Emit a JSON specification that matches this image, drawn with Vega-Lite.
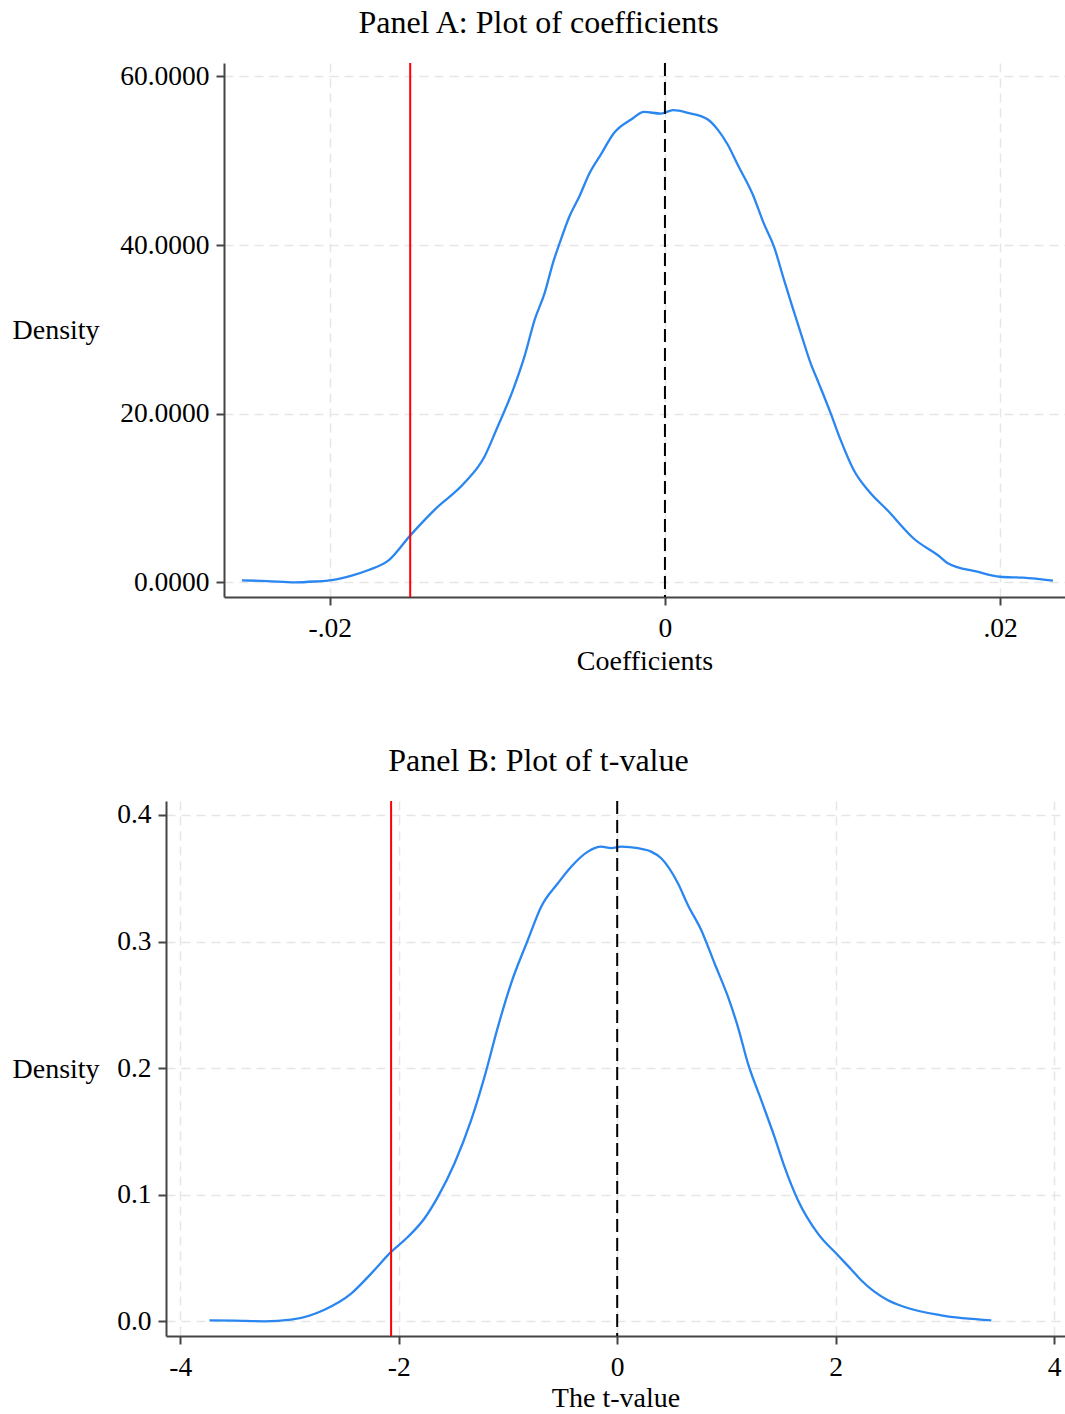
{
  "$schema": "https://vega.github.io/schema/vega-lite/v6.json",
  "padding": {"left": 12, "top": 7, "right": 0, "bottom": 0},
  "background": "white",
  "spacing": 69,
  "config": {
    "view": {"stroke": null},
    "font": "Liberation Serif",
    "title": {"font": "Liberation Serif", "fontSize": 32, "fontWeight": "normal", "color": "#000000", "anchor": "middle", "frame": "bounds", "offset": 22},
    "axis": {
      "labelFont": "Liberation Serif", "labelFontSize": 27.5, "labelColor": "#000000",
      "titleFont": "Liberation Serif", "titleFontSize": 28, "titleFontWeight": "normal", "titleColor": "#000000",
      "domainColor": "#444444", "domainWidth": 2, "tickColor": "#444444", "tickWidth": 2, "tickSize": 8,
      "gridColor": "#e6e6e6", "gridDash": [9, 6], "gridWidth": 1.5,
      "labelFlush": false, "labelOverlap": false
    }
  },
  "vconcat": [
    {
      "title": {"text": "Panel A: Plot of coefficients"},
      "width": 899,
      "height": 534,
      "layer": [
        {
          "data": {"values": [
            {"x": -0.02524, "y": 0.24}, {"x": -0.02375, "y": 0.15}, {"x": -0.02208, "y": 0.0}, {"x": -0.0209, "y": 0.1},
            {"x": -0.01988, "y": 0.27}, {"x": -0.01869, "y": 0.8}, {"x": -0.01768, "y": 1.46}, {"x": -0.01649, "y": 2.6},
            {"x": -0.01518, "y": 5.6}, {"x": -0.01375, "y": 8.6}, {"x": -0.01196, "y": 11.8}, {"x": -0.01077, "y": 14.9},
            {"x": -0.01006, "y": 18.1}, {"x": -0.00907, "y": 22.8}, {"x": -0.00838, "y": 26.8}, {"x": -0.00778, "y": 31.1},
            {"x": -0.00718, "y": 34.3}, {"x": -0.00668, "y": 37.9}, {"x": -0.00629, "y": 40.2}, {"x": -0.0057, "y": 43.4},
            {"x": -0.0051, "y": 45.8}, {"x": -0.00451, "y": 48.5}, {"x": -0.00381, "y": 50.8}, {"x": -0.00304, "y": 53.3},
            {"x": -0.00202, "y": 54.9}, {"x": -0.00125, "y": 55.8}, {"x": -0.00024, "y": 55.6}, {"x": 0.00048, "y": 56.0},
            {"x": 0.00155, "y": 55.6}, {"x": 0.00214, "y": 55.3}, {"x": 0.00256, "y": 54.9}, {"x": 0.00315, "y": 53.7},
            {"x": 0.00375, "y": 51.9}, {"x": 0.00435, "y": 49.5}, {"x": 0.00524, "y": 46.0}, {"x": 0.00589, "y": 42.6},
            {"x": 0.00651, "y": 39.8}, {"x": 0.0071, "y": 35.9}, {"x": 0.0076, "y": 32.7}, {"x": 0.0081, "y": 29.6},
            {"x": 0.00869, "y": 26.0}, {"x": 0.00918, "y": 23.6}, {"x": 0.00988, "y": 20.1}, {"x": 0.01048, "y": 16.9},
            {"x": 0.01127, "y": 13.3}, {"x": 0.01226, "y": 10.6}, {"x": 0.01325, "y": 8.6}, {"x": 0.01484, "y": 5.2},
            {"x": 0.01643, "y": 3.0}, {"x": 0.01685, "y": 2.3}, {"x": 0.01863, "y": 1.26}, {"x": 0.02, "y": 0.66},
            {"x": 0.02137, "y": 0.55}, {"x": 0.02315, "y": 0.19}
          ]},
          "mark": {"type": "line", "color": "#2a86f0", "strokeWidth": 2.3, "interpolate": "monotone"},
          "encoding": {
            "x": {"field": "x", "type": "quantitative",
              "scale": {"domain": [-0.02631, 0.02387], "range": [58, 899], "nice": false, "zero": false},
              "axis": {"title": "Coefficients", "values": [-0.02, 0, 0.02], "labelExpr": "datum.value < 0 ? '-.02' : (datum.value > 0 ? '.02' : '0')", "labelPadding": 9, "titlePadding": 6}},
            "y": {"field": "y", "type": "quantitative",
              "scale": {"domain": [-1.74, 61.6], "nice": false, "zero": false},
              "axis": {"title": "Density", "values": [0, 20, 40, 60], "format": ".4f", "offset": -58, "labelPadding": 7,
                "titleAngle": 0, "titleAlign": "left", "titleBaseline": "alphabetic", "titleX": -212, "titleY": 275}}
          }
        },
        {
          "data": {"values": [{"x": -0.0152}]},
          "mark": {"type": "rule", "color": "#ff0000", "strokeWidth": 2},
          "encoding": {"x": {"field": "x", "type": "quantitative"}}
        },
        {
          "data": {"values": [{"x": 0}]},
          "mark": {"type": "rule", "color": "#000000", "strokeWidth": 2, "strokeDash": [13, 6]},
          "encoding": {"x": {"field": "x", "type": "quantitative"}}
        }
      ]
    },
    {
      "title": {"text": "Panel B: Plot of t-value"},
      "width": 899,
      "height": 535,
      "layer": [
        {
          "data": {"values": [
            {"x": -3.733, "y": 0.0008}, {"x": -3.5, "y": 0.0005}, {"x": -3.23, "y": 0.0}, {"x": -2.985, "y": 0.0013},
            {"x": -2.68, "y": 0.0092}, {"x": -2.436, "y": 0.0219}, {"x": -2.253, "y": 0.0377}, {"x": -2.07, "y": 0.0548},
            {"x": -1.917, "y": 0.0666}, {"x": -1.765, "y": 0.0812}, {"x": -1.642, "y": 0.0983}, {"x": -1.49, "y": 0.1247},
            {"x": -1.337, "y": 0.1589}, {"x": -1.215, "y": 0.1931}, {"x": -1.092, "y": 0.2326}, {"x": -0.971, "y": 0.267},
            {"x": -0.818, "y": 0.3012}, {"x": -0.696, "y": 0.3275}, {"x": -0.543, "y": 0.346}, {"x": -0.421, "y": 0.3591},
            {"x": -0.268, "y": 0.371}, {"x": -0.147, "y": 0.3749}, {"x": -0.055, "y": 0.3737}, {"x": 0.037, "y": 0.3749},
            {"x": 0.19, "y": 0.3737}, {"x": 0.311, "y": 0.371}, {"x": 0.403, "y": 0.3658}, {"x": 0.556, "y": 0.346},
            {"x": 0.647, "y": 0.3289}, {"x": 0.769, "y": 0.3091}, {"x": 0.891, "y": 0.2828}, {"x": 1.014, "y": 0.2564},
            {"x": 1.105, "y": 0.2326}, {"x": 1.197, "y": 0.2037}, {"x": 1.319, "y": 0.1747}, {"x": 1.44, "y": 0.1457},
            {"x": 1.532, "y": 0.122}, {"x": 1.655, "y": 0.0957}, {"x": 1.838, "y": 0.0693}, {"x": 2.021, "y": 0.0522},
            {"x": 2.143, "y": 0.041}, {"x": 2.234, "y": 0.0324}, {"x": 2.479, "y": 0.0166}, {"x": 2.631, "y": 0.0113},
            {"x": 2.967, "y": 0.0047}, {"x": 3.425, "y": 0.0008}
          ]},
          "mark": {"type": "line", "color": "#2a86f0", "strokeWidth": 2.3, "interpolate": "monotone"},
          "encoding": {
            "x": {"field": "x", "type": "quantitative",
              "scale": {"domain": [-4.131, 4.1], "nice": false, "zero": false},
              "axis": {"title": "The t-value", "values": [-4, -2, 0, 2, 4], "labelExpr": "datum.value < 0 ? '-' + abs(datum.value) : '' + datum.value", "labelPadding": 9, "titlePadding": 4}},
            "y": {"field": "y", "type": "quantitative",
              "scale": {"domain": [-0.0116, 0.411], "nice": false, "zero": false},
              "axis": {"title": "Density", "values": [0, 0.1, 0.2, 0.3, 0.4], "format": ".1f", "labelPadding": 7,
                "titleAngle": 0, "titleAlign": "left", "titleBaseline": "alphabetic", "titleX": -154, "titleY": 276}}
          }
        },
        {
          "data": {"values": [{"x": -2.07}]},
          "mark": {"type": "rule", "color": "#ff0000", "strokeWidth": 2},
          "encoding": {"x": {"field": "x", "type": "quantitative"}}
        },
        {
          "data": {"values": [{"x": 0}]},
          "mark": {"type": "rule", "color": "#000000", "strokeWidth": 2, "strokeDash": [13, 6]},
          "encoding": {"x": {"field": "x", "type": "quantitative"}}
        }
      ]
    }
  ]
}
